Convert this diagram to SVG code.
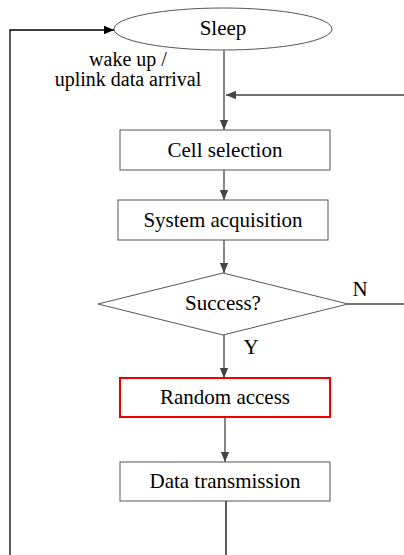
<svg xmlns="http://www.w3.org/2000/svg" width="404" height="555" viewBox="0 0 404 555">
<style>
text{font-family:"Liberation Serif","Times New Roman",serif;font-size:21px;fill:#000}
.lbl{font-size:20px}
.box{fill:#fff;stroke:#555;stroke-width:1}
.red{fill:#fff;stroke:#e00;stroke-width:2}
.c{fill:none;stroke:#444;stroke-width:1.3}
.k{fill:none;stroke:#000;stroke-width:1.3}
</style>
<defs>
<marker id="ah" markerWidth="10" markerHeight="12" refX="12" refY="5" viewBox="0 0 12 10" orient="auto" markerUnits="userSpaceOnUse">
<path d="M0,0 L12,5 L0,10 z" fill="#444"/>
</marker>
<marker id="ahk" markerWidth="10" markerHeight="12" refX="12" refY="5" viewBox="0 0 12 10" orient="auto" markerUnits="userSpaceOnUse">
<path d="M0,0 L12,5 L0,10 z" fill="#000"/>
</marker>
</defs>
<g id="connectors">
<path class="k" d="M10,555 V30 H114" marker-end="url(#ahk)"/>
<path class="c" d="M224,50 V130" marker-end="url(#ah)"/>
<path class="c" d="M404,95 H226" marker-end="url(#ah)"/>
<path class="c" d="M224,170 V200" marker-end="url(#ah)"/>
<path class="c" d="M224,240 V273" marker-end="url(#ah)"/>
<path class="c" d="M348,304 H404"/>
<path class="c" d="M224,335 V378" marker-end="url(#ah)"/>
<path class="c" d="M225,417 V462" marker-end="url(#ah)"/>
<path class="k" d="M226,501 V555"/>
<text class="lbl" x="128" y="66" text-anchor="middle">wake up /</text>
<text class="lbl" x="128" y="86" text-anchor="middle">uplink data arrival</text>
<text x="360" y="296" text-anchor="middle">N</text>
<text x="251" y="354" text-anchor="middle">Y</text>
</g>
<g id="sleep">
<ellipse class="box" cx="223" cy="29" rx="109" ry="21"/>
<text x="223" y="35" text-anchor="middle">Sleep</text>
</g>
<g id="cell-selection">
<rect class="box" x="120" y="130" width="210" height="40"/>
<text x="225" y="157" text-anchor="middle">Cell selection</text>
</g>
<g id="system-acquisition">
<rect class="box" x="118" y="200" width="210" height="40"/>
<text x="223" y="227" text-anchor="middle">System acquisition</text>
</g>
<g id="success">
<polygon class="box" points="223,273 348,304 223,335 98,304"/>
<text x="223" y="310" text-anchor="middle">Success?</text>
</g>
<g id="random-access">
<rect class="red" x="120" y="378" width="210" height="39"/>
<text x="225" y="404" text-anchor="middle">Random access</text>
</g>
<g id="data-transmission">
<rect class="box" x="120" y="462" width="210" height="39"/>
<text x="225" y="488" text-anchor="middle">Data transmission</text>
</g>
</svg>
